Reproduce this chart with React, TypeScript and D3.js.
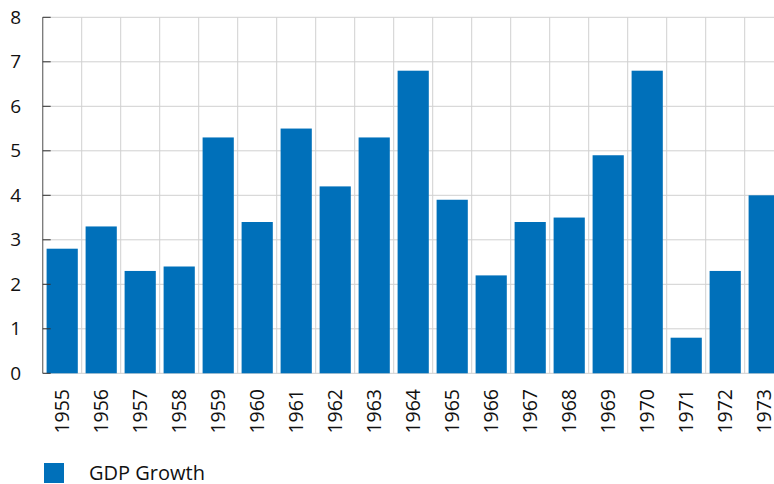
import React from "react";
import * as d3 from "d3";

const years = ["1955","1956","1957","1958","1959","1960","1961","1962","1963","1964","1965","1966","1967","1968","1969","1970","1971","1972","1973"];
const gdpGrowth = [2.8,3.3,2.3,2.4,5.3,3.4,5.5,4.2,5.3,6.8,3.9,2.2,3.4,3.5,4.9,6.8,0.8,2.3,4.0];
const yTicks = [0,1,2,3,4,5,6,7,8];
const seriesName = "GDP Growth";

const W = 774, H = 484;
const left = 42.7, top = 17.3, bottom = 373.3;
const bandW = 39;
const font = "'Open Sans', sans-serif";
const color = "#0070BA";

export default function App() {
  const x = d3.scaleBand<string>().domain(years).range([left, left + bandW * years.length]).paddingInner(0.2).paddingOuter(0.1);
  const y = d3.scaleLinear().domain([0, 8]).range([bottom, top]);
  const step = x.step();
  const x0 = left;
  const boundaries = years.map((_, i) => x0 + step * (i + 1));
  return (
    <svg width={W} height={H} style={{ position: "absolute", left: 0, top: 0, display: "block" }}>
      <rect width={W} height={H} fill="#fff" />
      {yTicks.map(t => (
        <line key={"h" + t} x1={left} x2={W + 20} y1={y(t)} y2={y(t)} stroke="#d0d0d0" strokeWidth={1} />
      ))}
      {boundaries.map((b, i) => (
        <line key={"v" + i} x1={b} x2={b} y1={top} y2={bottom} stroke="#d0d0d0" strokeWidth={1} />
      ))}
      {years.map((yr, i) => (
        <rect key={yr} x={x(yr)} y={y(gdpGrowth[i])} width={x.bandwidth()} height={y(0) - y(gdpGrowth[i])} fill={color} />
      ))}
      <line x1={left} x2={left} y1={top} y2={bottom} stroke="#777" strokeWidth={1.3} />
      {yTicks.map(t => (
        <g key={"t" + t}>
          <line x1={left} x2={left + 8} y1={y(t)} y2={y(t)} stroke="#333" strokeWidth={1} />
          <text x={21} y={y(t)} dy="0.35em" textAnchor="end" fontFamily={font} fontSize={19} fill="#111">{t}</text>
        </g>
      ))}
      {years.map(yr => {
        const cx = (x(yr) as number) + x.bandwidth() / 2;
        return (
          <text key={"l" + yr} transform={`translate(${cx},389) rotate(-90)`} dy="0.36em" textAnchor="end" fontFamily={font} fontSize={19.5} fill="#111">{yr}</text>
        );
      })}
      <rect x={44} y={463} width={20} height={20} fill={color} />
      <text x={89} y={479.5} fontFamily={font} fontSize={20} fill="#111">{seriesName}</text>
    </svg>
  );
}
